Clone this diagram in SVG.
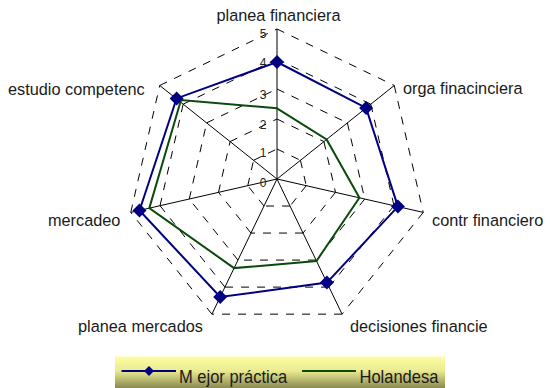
<svg xmlns="http://www.w3.org/2000/svg" width="552" height="388" viewBox="0 0 552 388">
<style>
.grid{fill:none;stroke:#000;stroke-width:1;stroke-dasharray:8,8}
.axis{stroke:#000;stroke-width:1;fill:none}
.lbl{font-family:"Liberation Sans",Arial,sans-serif;font-size:16.3px;fill:#1a1a1a}
.tick{font-family:"Liberation Sans",Arial,sans-serif;font-size:12px;fill:#222;text-anchor:middle}
.leg{font-family:"Liberation Sans",Arial,sans-serif;font-size:16.5px;fill:#1a1a1a}
.s1{fill:none;stroke:#000080;stroke-width:2}
.s2{fill:none;stroke:#0b4a0b;stroke-width:2}
</style>
<defs>
<linearGradient id="lg" x1="0" y1="0" x2="0" y2="1">
<stop offset="0" stop-color="#fdfda2"/>
<stop offset="0.45" stop-color="#eaea90"/>
<stop offset="1" stop-color="#86864f"/>
</linearGradient>
<path id="dia" d="M0,-7 L7,0 L0,7 L-7,0 Z" fill="#000080"/>
</defs>
<rect width="552" height="388" fill="#fff"/>
<g id="gridlines">
<path class="grid" d="M277,29 L394.27,85.48 M394.27,85.48 L423.24,212.38 M423.24,212.38 L342.08,314.15 M342.08,314.15 L211.92,314.15 M211.92,314.15 L130.76,212.38 M130.76,212.38 L159.73,85.48 M159.73,85.48 L277,29"/>
<path class="grid" d="M277,59 L370.82,104.18 M370.82,104.18 L393.99,205.7 M393.99,205.7 L329.07,287.12 M329.07,287.12 L224.93,287.12 M224.93,287.12 L160.01,205.7 M160.01,205.7 L183.18,104.18 M183.18,104.18 L277,59"/>
<path class="grid" d="M277,89 L347.36,122.89 M347.36,122.89 L364.74,199.03 M364.74,199.03 L316.05,260.09 M316.05,260.09 L237.95,260.09 M237.95,260.09 L189.26,199.03 M189.26,199.03 L206.64,122.89 M206.64,122.89 L277,89"/>
<path class="grid" d="M277,119 L323.91,141.59 M323.91,141.59 L335.5,192.35 M335.5,192.35 L303.03,233.06 M303.03,233.06 L250.97,233.06 M250.97,233.06 L218.5,192.35 M218.5,192.35 L230.09,141.59 M230.09,141.59 L277,119"/>
<path class="grid" d="M277,149 L300.45,160.3 M300.45,160.3 L306.25,185.68 M306.25,185.68 L290.02,206.03 M290.02,206.03 L263.98,206.03 M263.98,206.03 L247.75,185.68 M247.75,185.68 L253.55,160.3 M253.55,160.3 L277,149"/>
</g>
<g id="axes">
<path class="axis" d="M277,179 L277,29 M277,179 L394.27,85.48 M277,179 L423.24,212.38 M277,179 L342.08,314.15 M277,179 L211.92,314.15 M277,179 L130.76,212.38 M277,179 L159.73,85.48"/>
</g>
<g id="scale">
<text class="tick" x="263" y="38">5</text>
<text class="tick" x="263" y="67">4</text>
<text class="tick" x="263" y="99">3</text>
<text class="tick" x="263" y="129">2</text>
<text class="tick" x="263" y="157">1</text>
<text class="tick" x="263" y="187">0</text>
</g>
<g id="connectors">
<path id="series-holandesa" class="s2" d="M277,108.3 L326.6,139.4 L359.4,197.8 L316.5,261 L234.1,268.1 L149.3,208.1 L181,100 Z"/>
<path id="series-mejor" class="s1" d="M277,62 L366.1,107.9 L397.9,206.6 L326.9,282.6 L220.2,297 L139.5,210.4 L176.6,98.4 Z"/>
</g>
<g id="markers">
<use href="#dia" x="277" y="62"/>
<use href="#dia" x="366.1" y="107.9"/>
<use href="#dia" x="397.9" y="206.6"/>
<use href="#dia" x="326.9" y="282.6"/>
<use href="#dia" x="220.2" y="297"/>
<use href="#dia" x="139.5" y="210.4"/>
<use href="#dia" x="176.6" y="98.4"/>
</g>
<g id="node-planea-financiera"><text class="lbl" x="278.5" y="21" text-anchor="middle">planea financiera</text></g>
<g id="node-orga-finacinciera"><text class="lbl" x="403" y="94">orga finacinciera</text></g>
<g id="node-contr-financiero"><text class="lbl" x="432" y="226">contr financiero</text></g>
<g id="node-decisiones-financie"><text class="lbl" x="350" y="332">decisiones financie</text></g>
<g id="node-planea-mercados"><text class="lbl" x="78" y="332">planea mercados</text></g>
<g id="node-mercadeo"><text class="lbl" x="48" y="226">mercadeo</text></g>
<g id="node-estudio-competenc"><text class="lbl" x="8" y="95">estudio competenc</text></g>
<g id="legend">
<rect x="115" y="356.5" width="330" height="32" fill="url(#lg)"/>
<line x1="121.5" y1="371" x2="176" y2="371" class="s1"/>
<path d="M149,366 L154,371 L149,376 L144,371 Z" fill="#000080"/>
<text class="leg" transform="translate(179,383) scale(1,1.15)">M ejor práctica</text>
<line x1="302" y1="371" x2="356" y2="371" class="s2"/>
<text class="leg" transform="translate(359.5,383) scale(1,1.15)">Holandesa</text>
</g>
</svg>
